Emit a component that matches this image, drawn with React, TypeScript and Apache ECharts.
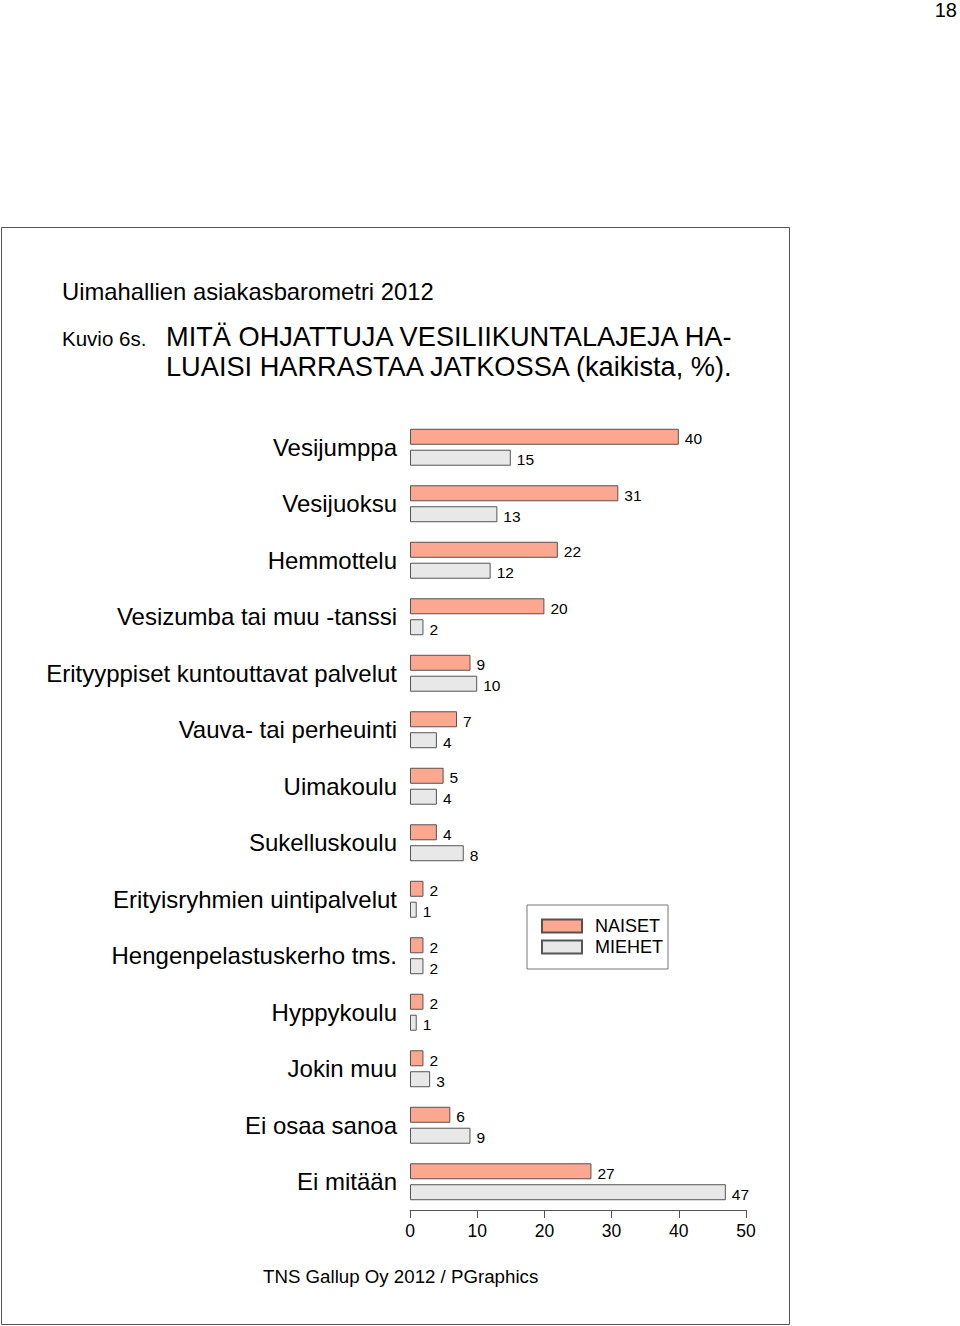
import React, { useEffect, useRef } from "react";
import * as echarts from "echarts";

const categories = [
  "Vesijumppa",
  "Vesijuoksu",
  "Hemmottelu",
  "Vesizumba tai muu -tanssi",
  "Erityyppiset kuntouttavat palvelut",
  "Vauva- tai perheuinti",
  "Uimakoulu",
  "Sukelluskoulu",
  "Erityisryhmien uintipalvelut",
  "Hengenpelastuskerho tms.",
  "Hyppykoulu",
  "Jokin muu",
  "Ei osaa sanoa",
  "Ei mitään",
];
const naiset = [40, 31, 22, 20, 9, 7, 5, 4, 2, 2, 2, 2, 6, 27];
const miehet = [15, 13, 12, 2, 10, 4, 4, 8, 1, 2, 1, 3, 9, 47];
const seriesNames = ["NAISET", "MIEHET"];
const xTicks = { min: 0, max: 50, interval: 10 };

const SANS = "'Liberation Sans', Arial, sans-serif";

export default function App() {
  const ref = useRef<HTMLDivElement>(null);
  useEffect(() => {
    if (!ref.current) return;
    const chart = echarts.init(ref.current, null, { renderer: "svg" });
    const labelStyle = {
      show: true,
      position: "right" as const,
      distance: 6,
      fontSize: 15.5,
      color: "#000",
      fontFamily: SANS,
      offset: [0, 2],
    };
    chart.setOption({
      animation: false,
      backgroundColor: "#fff",
      textStyle: { fontFamily: SANS },
      grid: { left: 410, top: 419, width: 336, height: 791, containLabel: false },
      xAxis: {
        type: "value",
        min: xTicks.min,
        max: xTicks.max,
        interval: xTicks.interval,
        splitLine: { show: false },
        axisLine: { show: true, lineStyle: { color: "#555", width: 1 } },
        axisTick: { show: true, length: 8, lineStyle: { color: "#555" } },
        axisLabel: { fontSize: 17.5, color: "#000", margin: 12, fontFamily: SANS },
      },
      yAxis: {
        type: "category",
        inverse: true,
        data: categories,
        axisLine: { show: false },
        axisTick: { show: false },
        axisLabel: { fontSize: 24, color: "#000", margin: 13, fontFamily: SANS },
      },
      legend: {
        orient: "vertical",
        left: 527,
        top: 905,
        padding: [12, 5, 13, 14],
        itemGap: 3,
        itemWidth: 40,
        itemHeight: 13,
        icon: "rect",
        borderColor: "#777",
        borderWidth: 1,
        data: seriesNames,
        textStyle: {
          fontSize: 18,
          color: "#000",
          fontFamily: SANS,
          padding: [0, 0, 0, 8],
        },
      },
      series: [
        {
          name: seriesNames[0],
          type: "bar",
          data: naiset,
          barWidth: 16,
          barGap: "31%",
          itemStyle: { color: "#FCA890", borderColor: "#5a5050", borderWidth: 1 },
          label: labelStyle,
        },
        {
          name: seriesNames[1],
          type: "bar",
          data: miehet,
          barWidth: 16,
          barGap: "31%",
          itemStyle: { color: "#E8E8E8", borderColor: "#555", borderWidth: 1 },
          label: labelStyle,
        },
      ],
      graphic: [
        {
          type: "rect",
          shape: { x: 1.5, y: 227.5, width: 788, height: 1097 },
          style: { fill: "none", stroke: "#555", lineWidth: 1 },
          z: -1,
        },
        {
          type: "text",
          x: 957,
          y: 10,
          style: { text: "18", font: "20px " + SANS, fill: "#000", textAlign: "right", textVerticalAlign: "middle" },
        },
        {
          type: "text",
          x: 62,
          y: 291,
          style: { text: "Uimahallien asiakasbarometri 2012", font: "23.8px " + SANS, fill: "#000", textVerticalAlign: "middle" },
        },
        {
          type: "text",
          x: 62,
          y: 338,
          style: { text: "Kuvio 6s.", font: "20.5px " + SANS, fill: "#000", textVerticalAlign: "middle" },
        },
        {
          type: "text",
          x: 166,
          y: 336,
          style: { text: "MITÄ OHJATTUJA VESILIIKUNTALAJEJA HA-", font: "27.2px " + SANS, fill: "#000", textVerticalAlign: "middle" },
        },
        {
          type: "text",
          x: 166,
          y: 366,
          style: { text: "LUAISI HARRASTAA JATKOSSA (kaikista, %).", font: "27.2px " + SANS, fill: "#000", textVerticalAlign: "middle" },
        },
        {
          type: "text",
          x: 263,
          y: 1276,
          style: { text: "TNS Gallup Oy 2012 / PGraphics", font: "18.7px " + SANS, fill: "#000", textVerticalAlign: "middle" },
        },
      ],
    });
    return () => chart.dispose();
  }, []);
  return (
    <div
      ref={ref}
      style={{ position: "absolute", left: 0, top: 0, width: 960, height: 1326 }}
    />
  );
}
